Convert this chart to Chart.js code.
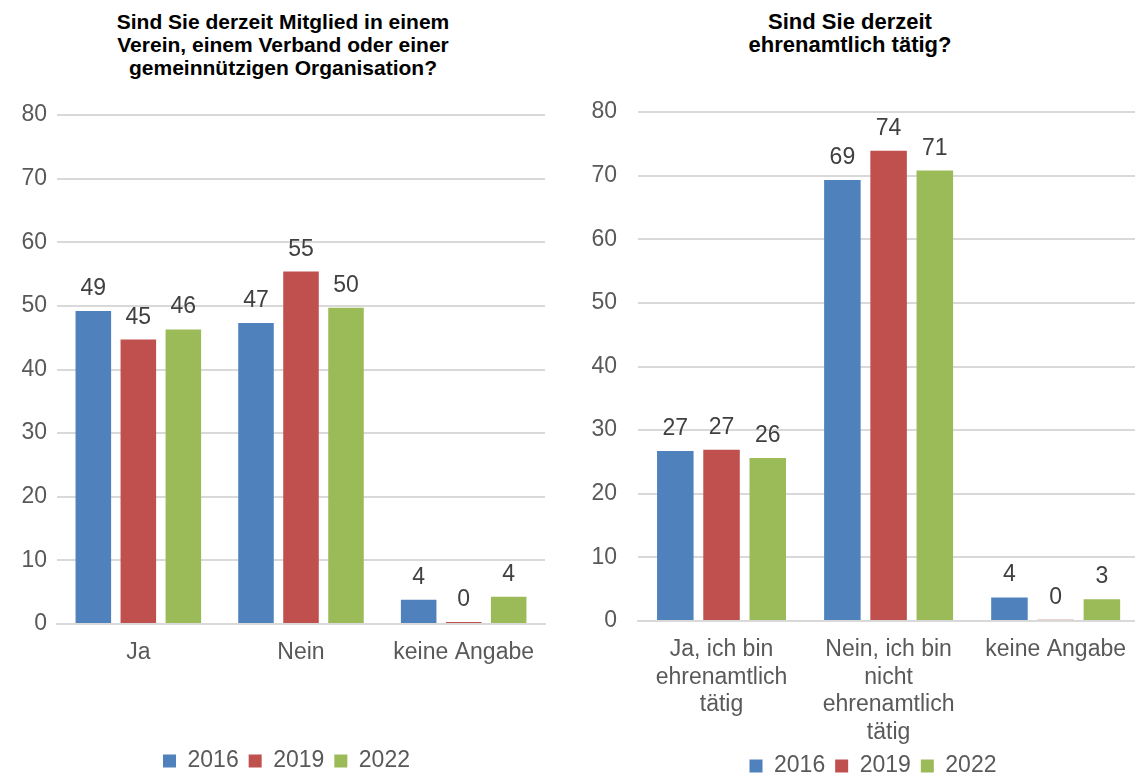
<!DOCTYPE html>
<html lang="de">
<head>
<meta charset="utf-8">
<title>Mitgliedschaft und Ehrenamt</title>
<script src="https://cdn.jsdelivr.net/npm/chart.js@4.4.1/dist/chart.umd.min.js"></script>
<style>
  html, body { margin: 0; padding: 0; width: 1135px; height: 776px; overflow: hidden; background: #fff; }
  body { position: relative; font-family: "Liberation Sans", Arial, sans-serif; }
  .chart-title {
    position: absolute; text-align: center; font-weight: bold; color: #000;
    white-space: nowrap; line-height: 23px; top: 10px; width: 400px;
  }
  #titleLeft  { left: 83px; font-size: 21px; }
  #titleRight { left: 650px; font-size: 22px; }
  canvas { position: absolute; top: 0; }
  #memberChart { left: 0; }
  #volunteerChart { left: 565px; }
</style>
</head>
<body>
<div class="chart-title" id="titleLeft">Sind Sie derzeit Mitglied in einem<br>Verein, einem Verband oder einer<br>gemeinnützigen Organisation?</div>
<div class="chart-title" id="titleRight">Sind Sie derzeit<br>ehrenamtlich tätig?</div>
<canvas id="memberChart" width="570" height="800"></canvas>
<canvas id="volunteerChart" width="576" height="800"></canvas>

<script>
// survey years and colours
const years = ["2016", "2019", "2022"];
const yearColors = ["#4f81bd", "#c0504d", "#9bbb59"];

// question 1: membership (percent)
const memberCategories = ["Ja", "Nein", "keine Angabe"];
const member2016 = [49.2, 47.3, 3.8];
const member2019 = [44.7, 55.4, 0.3];
const member2022 = [46.3, 49.7, 4.3];

// question 2: volunteering (percent)
const volunteerCategories = [
  ["Ja, ich bin", "ehrenamtlich", "tätig"],
  ["Nein, ich bin", "nicht", "ehrenamtlich", "tätig"],
  "keine Angabe"
];
const volunteer2016 = [26.7, 69.3, 3.7];
const volunteer2019 = [26.9, 73.9, 0.2];
const volunteer2022 = [25.6, 70.8, 3.4];

const yTicks = [0, 10, 20, 30, 40, 50, 60, 70, 80];

const FONT = '"Liberation Sans", Arial, sans-serif';
Chart.defaults.font.family = FONT;
Chart.defaults.font.size = 23;
Chart.defaults.color = "#595959";

// rounded value above each bar
const valueLabels = {
  id: "valueLabels",
  afterDatasetsDraw(chart) {
    const ctx = chart.ctx;
    ctx.save();
    ctx.font = "23px " + FONT;
    ctx.fillStyle = "#404040";
    ctx.textAlign = "center";
    ctx.textBaseline = "alphabetic";
    chart.data.datasets.forEach((ds, i) => {
      chart.getDatasetMeta(i).data.forEach((bar, j) => {
        ctx.fillText(String(Math.round(ds.data[j])), bar.x, bar.y - 16);
      });
    });
    ctx.restore();
  }
};

// nudge the legend sideways without moving the plot
const legendShift = {
  id: "legendShift",
  afterLayout(chart, args, opts) {
    const legend = chart.legend;
    if (!legend || !opts.dx) return;
    legend.left += opts.dx;
    legend.right += opts.dx;
  }
};

function buildChart(canvasId, labels, series, opts) {
  return new Chart(document.getElementById(canvasId), {
    type: "bar",
    data: {
      labels: labels,
      datasets: series.map((values, i) => ({
        label: years[i],
        data: values,
        backgroundColor: yearColors[i],
        borderWidth: 0,
        categoryPercentage: 0.83,
        barPercentage: 0.79
      }))
    },
    options: {
      responsive: false,
      animation: false,
      devicePixelRatio: 1,
      layout: { padding: opts.padding },
      plugins: {
        title: { display: false },
        tooltip: { enabled: false },
        legendShift: { dx: opts.legendDx },
        legend: {
          position: "bottom",
          labels: {
            boxWidth: 13,
            boxHeight: 13,
            padding: 10,
            color: "#595959",
            font: { size: 23 }
          }
        }
      },
      scales: {
        x: {
          grid: { display: false, drawTicks: false },
          border: { display: true, color: "#d9d9d9", width: 2 },
          ticks: { padding: 15, maxRotation: 0, autoSkip: false, color: "#595959", font: { size: 23, lineHeight: 1.2 } },
          afterFit(scale) { scale.height = opts.xAxisHeight; }
        },
        y: {
          min: 0,
          max: 80,
          afterBuildTicks(scale) { scale.ticks = yTicks.map(v => ({ value: v })); },
          grid: { color: "#d9d9d9", lineWidth: 2, drawTicks: false },
          border: { display: false },
          ticks: { padding: opts.tickPadding, color: "#595959", font: { size: 23 } },
          afterFit(scale) { scale.width = opts.yAxisWidth; }
        }
      }
    },
    plugins: [valueLabels, legendShift]
  });
}

buildChart("memberChart", memberCategories, [member2016, member2019, member2022], {
  padding: { left: 0, right: 25, top: 115, bottom: 17.5 },
  xAxisHeight: 115.5,
  yAxisWidth: 57,
  tickPadding: 10,
  legendDx: 14
});

buildChart("volunteerChart", volunteerCategories, [volunteer2016, volunteer2019, volunteer2022], {
  padding: { left: 0, right: 0, top: 112, bottom: 12.5 },
  xAxisHeight: 123.5,
  yAxisWidth: 73,
  tickPadding: 21,
  legendDx: 20
});
</script>
</body>
</html>
